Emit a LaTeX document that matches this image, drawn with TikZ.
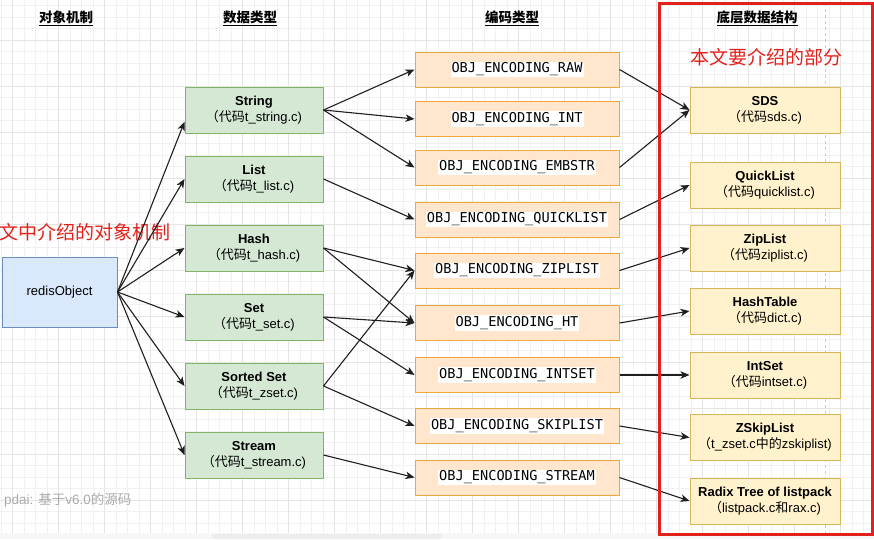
\documentclass[tikz,border=0pt]{standalone}
\usepackage{fontspec}
\setmainfont{Liberation Sans}
\newfontfamily\cjk{Noto Sans CJK SC}
\newfontfamily\mono{DejaVu Sans Mono}
\usetikzlibrary{arrows.meta,calc}
\definecolor{gridminor}{HTML}{F1F1F1}
\definecolor{gridmajor}{HTML}{E4E4E4}
\definecolor{bluefill}{HTML}{DAE8FC}
\definecolor{bluedraw}{HTML}{6C8EBF}
\definecolor{greenfill}{HTML}{D5E8D4}
\definecolor{greendraw}{HTML}{82B366}
\definecolor{orangefill}{HTML}{FFE6CC}
\definecolor{orangedraw}{HTML}{EAA93A}
\definecolor{yellowfill}{HTML}{FFF2CC}
\definecolor{yellowdraw}{HTML}{D6B656}
\definecolor{framered}{HTML}{E3211C}
\definecolor{notegray}{HTML}{AAAAAA}
\newcommand\whitebg[1]{{\setlength\fboxsep{1pt}\colorbox{white}{#1}}}
\newcommand\fs[1]{\fontsize{#1}{16}\selectfont}
\tikzset{
  box/.style={draw, line width=1pt, align=center, inner sep=2pt, text=black, font=\fs{13}},
  objbox/.style={box, fill=bluefill, draw=bluedraw, minimum width=115pt, minimum height=70pt},
  typebox/.style={box, fill=greenfill, draw=greendraw, minimum width=138pt, minimum height=46pt},
  encbox/.style={box, fill=orangefill, draw=orangedraw, minimum width=204pt, minimum height=35pt, font=\mono\fs{13.6}},
  structbox/.style={box, fill=yellowfill, draw=yellowdraw, minimum width=150pt, minimum height=46pt},
  header/.style={font=\cjk\bfseries\fs{13.5}, inner sep=1pt},
  rednote/.style={font=\cjk\fs{19}, text=framered, inner sep=0pt},
  conn/.style={draw=black!88, line width=1.1pt, -{Stealth[length=9pt,width=7.5pt,inset=2.5pt]}}
}
\begin{document}
\begin{tikzpicture}[x=1pt,y=-1pt]
\useasboundingbox (0,0) rectangle (874,539);
\fill[white] (0,0) rectangle (874,539);
% grid
\foreach \k in {0,...,75} \draw[gridminor, line width=0.7pt] ({1.2+11.5*\k},0) -- ({1.2+11.5*\k},533);
\foreach \k in {0,...,45} \draw[gridminor, line width=0.7pt] (0,{5.8+11.5*\k}) -- (874,{5.8+11.5*\k});
\foreach \k in {0,...,18} \draw[gridmajor, line width=0.7pt] ({12.7+46*\k},0) -- ({12.7+46*\k},533);
\foreach \k in {0,...,10} \draw[gridmajor, line width=0.7pt] (0,{40.3+46*\k}) -- (874,{40.3+46*\k});
% bottom bar
\fill[gray!6] (0,533) rectangle (874,539);
\fill[gray!14, rounded corners=2pt] (212,534) rectangle (442,539);
% page break dashed line
\draw[gray!40, line width=0.8pt, dash pattern=on 3pt off 3pt] (825,3) -- (825,534);

% headers
\node[header] (h1) at (66,18) {\underline{对象机制}};
\node[header] (h2) at (250,18) {\underline{数据类型}};
\node[header] (h3) at (512,18) {\underline{编码类型}};
\node[header] (h4) at (757,18) {\underline{底层数据结构}};

% notes
\node[rednote] (note1) at (766,57) {本文要介绍的部分};
\node[rednote, anchor=west] (note2) at (-1,232) {文中介绍的对象机制};
\node[font=\fs{13.5}, text=notegray, anchor=west, inner sep=0pt] (src) at (4,500) {pdai: {\cjk 基于}v6.0{\cjk 的源码}};

% object
\node[objbox] (ro) at (59.5,292) {redisObject};

% data types
\node[typebox] (str) at (254,110) {\textbf{String}\\{\cjk （代码}t\_string.c)};
\node[typebox] (lst) at (254,179) {\textbf{List}\\{\cjk （代码}t\_list.c)};
\node[typebox] (hsh) at (254,248) {\textbf{Hash}\\{\cjk （代码}t\_hash.c)};
\node[typebox] (set) at (254,317) {\textbf{Set}\\{\cjk （代码}t\_set.c)};
\node[typebox] (zst) at (254,386) {\textbf{Sorted Set}\\{\cjk （代码}t\_zset.c)};
\node[typebox] (stm) at (254,455) {\textbf{Stream}\\{\cjk （代码}t\_stream.c)};

% encodings
\node[encbox] (raw) at (517,69.5) {\whitebg{OBJ\_ENCODING\_RAW}};
\node[encbox] (int) at (517,119) {\whitebg{OBJ\_ENCODING\_INT}};
\node[encbox] (emb) at (517,167.5) {\whitebg{OBJ\_ENCODING\_EMBSTR}};
\node[encbox] (ql) at (517,219.5) {\whitebg{OBJ\_ENCODING\_QUICKLIST}};
\node[encbox] (zl) at (517,270.5) {\whitebg{OBJ\_ENCODING\_ZIPLIST}};
\node[encbox] (ht) at (517,323) {\whitebg{OBJ\_ENCODING\_HT}};
\node[encbox] (is) at (517,375) {\whitebg{OBJ\_ENCODING\_INTSET}};
\node[encbox] (sl) at (517,426) {\whitebg{OBJ\_ENCODING\_SKIPLIST}};
\node[encbox] (sm) at (517,477.5) {\whitebg{OBJ\_ENCODING\_STREAM}};

% structures
\node[structbox] (sds) at (765,110) {\textbf{SDS}\\{\cjk （代码}sds.c)};
\node[structbox] (qlist) at (765,185) {\textbf{QuickList}\\{\cjk （代码}quicklist.c)};
\node[structbox] (zlist) at (765,248) {\textbf{ZipList}\\{\cjk （代码}ziplist.c)};
\node[structbox] (htab) at (765,311) {\textbf{HashTable}\\{\cjk （代码}dict.c)};
\node[structbox] (iset) at (765,375) {\textbf{IntSet}\\{\cjk （代码}intset.c)};
\node[structbox] (zsl) at (765,437.5) {\textbf{ZSkipList}\\{\cjk （}t\_zset.c{\cjk 中的}zskiplist)};
\node[structbox] (radix) at (765,501) {\textbf{Radix Tree of listpack}\\{\cjk （}listpack.c{\cjk 和}rax.c)};

% object -> types
\draw[conn] (ro.east) -- ($(str.south west)!0.25!(str.north west)$);
\draw[conn] (ro.east) -- (lst.west);
\draw[conn] (ro.east) -- (hsh.west);
\draw[conn] (ro.east) -- (set.west);
\draw[conn] (ro.east) -- (zst.west);
\draw[conn] (ro.east) -- (stm.west);

% types -> encodings
\draw[conn] (str.east) -- (raw.west);
\draw[conn] (str.east) -- (int.west);
\draw[conn] (str.east) -- (emb.west);
\draw[conn] (lst.east) -- (ql.west);
\draw[conn] (hsh.east) -- (zl.west);
\draw[conn] (hsh.east) -- (ht.west);
\draw[conn] (set.east) -- (ht.west);
\draw[conn] (set.east) -- (is.west);
\draw[conn] (zst.east) -- (zl.west);
\draw[conn] (zst.east) -- (sl.west);
\draw[conn] (stm.east) -- (sm.west);

% encodings -> structures
\draw[conn] (raw.east) -- (sds.west);
\draw[conn] (emb.east) -- (sds.west);
\draw[conn] (ql.east) -- (qlist.west);
\draw[conn] (zl.east) -- (zlist.west);
\draw[conn] (ht.east) -- (htab.west);
\draw[conn] (is.east) -- (iset.west);
\draw[conn] (sl.east) -- (zsl.west);
\draw[conn] (sm.east) -- (radix.west);

% red frame
\draw[framered, line width=3pt] (659,3) rectangle (872.5,534);
\end{tikzpicture}
\end{document}
